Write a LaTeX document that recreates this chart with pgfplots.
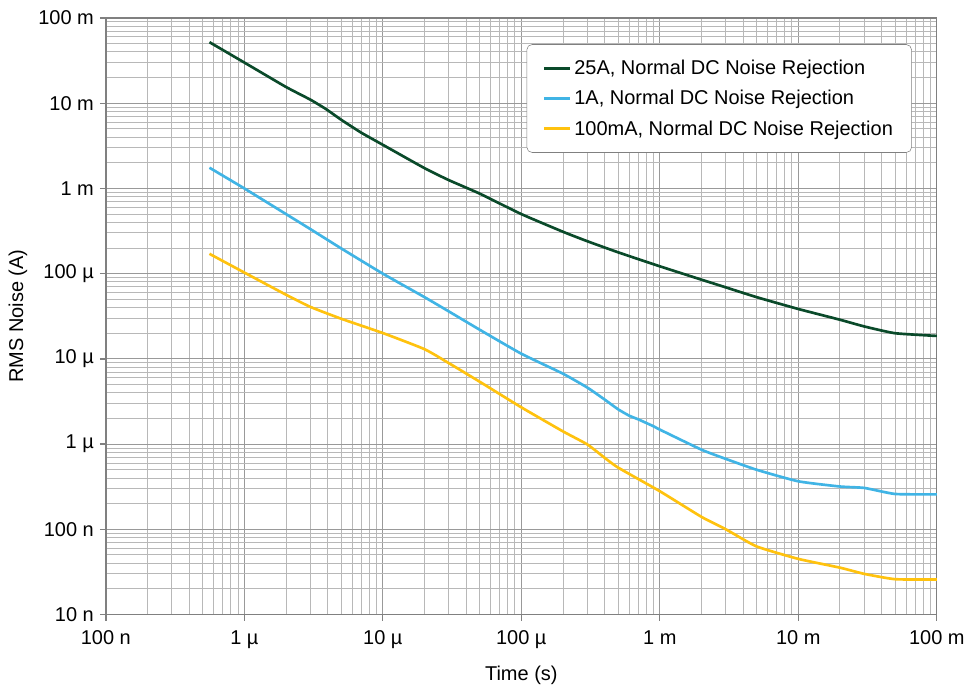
\documentclass[border=0pt]{standalone}
\usepackage{pgfplots}
\pgfplotsset{compat=1.18}
\usepackage{fontspec}
\setmainfont{Liberation Sans}
\definecolor{cgreen}{HTML}{0A4A2A}
\definecolor{cblue}{HTML}{40B4E5}
\definecolor{cyellow}{HTML}{FFC20E}
\definecolor{gridmaj}{HTML}{999999}
\definecolor{gridmin}{HTML}{B8B8B8}
\definecolor{axc}{HTML}{808080}
\begin{document}
\begin{tikzpicture}
\begin{loglogaxis}[
  width=624pt, height=448pt, scale only axis,
  xmin=1e-7, xmax=1e-1, ymin=1e-8, ymax=1e-1,
  font=\fontsize{15}{18}\selectfont,
  tick label style={font=\fontsize{15}{18}\selectfont},
  label style={font=\fontsize{15}{18}\selectfont},
  /pgf/number format/assume math mode=true,
  xtick={1e-7,1e-6,1e-5,1e-4,1e-3,1e-2,1e-1},
  xticklabels={100 n,1 µ,10 µ,100 µ,1 m,10 m,100 m},
  ytick={1e-8,1e-7,1e-6,1e-5,1e-4,1e-3,1e-2,1e-1},
  yticklabels={10 n,100 n,1 µ,10 µ,100 µ,1 m,10 m,100 m},
  grid=both,
  major grid style={gridmaj, line width=0.75pt},
  minor grid style={gridmin, line width=0.75pt},
  axis line style={axc, line width=1pt},
  tick style={axc, line width=1pt},
  major tick length=4.5pt, minor tick length=0pt,
  tick align=outside,
  xtick pos=bottom, ytick pos=left,
  xticklabel style={yshift=-4pt},
  yticklabel style={xshift=-1pt},
  xlabel={Time (s)}, ylabel={RMS Noise (A)},
  every axis x label/.style={at={(rel axis cs:0.5,0)}, yshift=-45.5pt, anchor=center},
  every axis y label/.style={at={(rel axis cs:0,0.5)}, xshift=-66pt, rotate=90, anchor=center},
  legend style={at={(0.970,0.956)}, anchor=north east, draw=axc, rounded corners=4pt,
    font=\fontsize{15}{18}\selectfont, row sep=6.5pt, inner xsep=12pt, inner ysep=9.5pt,
    cells={anchor=west}},
  legend image code/.code={\draw[#1, line width=2.2pt] (0pt,0pt) -- (19.5pt,0pt);},
]
\addplot[cgreen, line width=2pt, smooth, tension=0.3] coordinates {
(5.6e-7,0.052) (1e-6,0.030) (2e-6,0.0155) (3e-6,0.0110) (3.9e-6,0.0085) (5e-6,0.0064)
(7e-6,0.0045) (1e-5,0.00325)
(2e-5,0.00173) (3e-5,0.00125) (5e-5,0.00087) (1e-4,0.00050) (2e-4,0.00031) (3e-4,0.00024)
(5e-4,0.000178) (1e-3,0.000122) (2e-3,8.5e-5) (3e-3,6.9e-5) (5e-3,5.3e-5) (1e-2,3.85e-5)
(2e-2,2.88e-5) (3e-2,2.4e-5) (5e-2,2.0e-5) (1e-1,1.86e-5)};
\addlegendentry{25A, Normal DC Noise Rejection}
\addplot[cblue, line width=2pt, smooth, tension=0.3] coordinates {
(5.6e-7,0.00175) (1e-6,0.00100) (2e-6,0.00050) (3e-6,0.000333) (5e-6,0.000198) (1e-5,1.0e-4)
(2e-5,5.3e-5) (3e-5,3.6e-5) (5e-5,2.2e-5) (1e-4,1.15e-5) (2e-4,6.7e-6) (3e-4,4.6e-6)
(4e-4,3.33e-6) (5e-4,2.56e-6) (6e-4,2.16e-6) (7e-4,1.95e-6) (9e-4,1.62e-6) (1e-3,1.48e-6)
(2e-3,8.6e-7) (3e-3,6.7e-7)
(5e-3,5.0e-7) (1e-2,3.66e-7) (2e-2,3.18e-7) (3e-2,3.06e-7) (5e-2,2.6e-7) (1e-1,2.57e-7)};
\addlegendentry{1A, Normal DC Noise Rejection}
\addplot[cyellow, line width=2pt, smooth, tension=0.3] coordinates {
(5.6e-7,1.71e-4) (1e-6,1.03e-4) (2e-6,5.66e-5) (3e-6,4.07e-5) (5e-6,2.96e-5) (1e-5,2.01e-5)
(2e-5,1.3e-5) (3e-5,8.9e-6) (5e-5,5.4e-6) (1e-4,2.7e-6) (2e-4,1.41e-6) (3e-4,9.9e-7)
(4e-4,6.9e-7) (5e-4,5.3e-7) (1e-3,2.8e-7) (2e-3,1.4e-7) (3e-3,1.0e-7) (5e-3,6.3e-8)
(1e-2,4.5e-8) (2e-2,3.55e-8) (3e-2,3.0e-8) (5e-2,2.6e-8) (1e-1,2.58e-8)};
\addlegendentry{100mA, Normal DC Noise Rejection}
\end{loglogaxis}
\path ([xshift=-79.5pt,yshift=13.5pt]current axis.north west)
      ([xshift=23.25pt,yshift=-53.25pt]current axis.south east);
\end{tikzpicture}
\end{document}
